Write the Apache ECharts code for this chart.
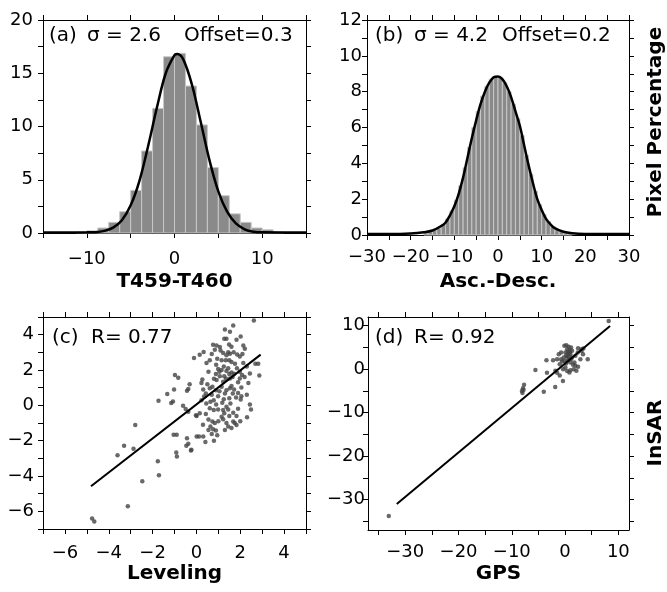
<!DOCTYPE html>
<html><head><meta charset="utf-8">
<script src="https://cdn.jsdelivr.net/npm/echarts@6/dist/echarts.min.js"></script>
<style>html,body{margin:0;padding:0;background:#fff}#c{width:667px;height:592px}</style>
</head><body><div id="c"></div>
<script>
// ---- (a) histogram T459-T460 ----
const histA_left = [-11.25, -10, -8.75, -7.5, -6.25, -5, -3.75, -2.5, -1.25, 0, 1.25, 2.5, 3.75, 5, 6.25, 7.5, 8.75, 10, 11.25];
const histA_pct  = [0.1, 0.2, 0.47, 1.0, 2.0, 4.0, 7.7, 11.7, 16.55, 16.87, 13.8, 10.15, 6.15, 3.5, 1.8, 1.0, 0.47, 0.3, 0.1];
const histA_width = 1.25;
const curveA_x = [-15, -12, -10, -9, -8, -7, -6, -5, -4, -3, -2, -1, 0, 0.3, 1, 2, 3, 4, 5, 6, 7, 8, 9, 10, 12, 15];
const curveA_y = [0.05, 0.05, 0.06, 0.08, 0.2, 0.5, 1.2, 2.6, 4.9, 8.2, 11.8, 15.0, 16.7, 16.8, 16.3, 13.9, 10.4, 6.8, 3.9, 2.0, 0.9, 0.35, 0.12, 0.06, 0.05, 0.05];

// ---- (b) histogram Asc.-Desc. ----
const histB_left = [-17,-16,-15,-14,-13,-12,-11,-10,-9,-8,-7,-6,-5,-4,-3,-2,-1,0,1,2,3,4,5,6,7,8,9,10,11,12,13,14,15,16];
const histB_pct  = [0.12,0.18,0.25,0.38,0.6,0.9,1.35,1.95,2.75,3.75,4.9,6.0,6.9,7.75,8.3,8.7,8.85,8.8,8.5,8.0,7.3,6.5,5.55,4.45,3.4,2.45,1.7,1.15,0.75,0.48,0.3,0.2,0.13,0.08];
const histB_width = 1;
const curveB_x = [-30,-25,-20,-17,-15,-13,-12,-11,-10,-9,-8,-7,-6,-5,-4,-3,-2,-1,0,1,2,3,4,5,6,7,8,9,10,11,12,13,15,17,20,25,30];
const curveB_y = [0.05,0.05,0.08,0.15,0.25,0.5,0.7,1.1,1.6,2.3,3.2,4.3,5.4,6.4,7.3,8.0,8.5,8.8,8.85,8.7,8.3,7.7,6.9,6.1,5.0,3.9,2.9,2.0,1.4,0.9,0.6,0.38,0.18,0.1,0.06,0.05,0.05];

// ---- (c) Leveling vs InSAR ----
const cLeveling = [-4.76,-4.66,-3.13,-2.47,-1.71,-1.76,-3.6,-3.3,-2.87,-2.79,-1.73,-1.33,-1.15,-1.07,-1.02,-0.43,-0.37,-0.98,-0.83,-0.31,-0.11,-0.61,-0.49,-0.37,-1.04,-0.9,-0.43,-0.46,-0.37,-0.92,-0.89,-0.25,0.01,-0.02,
 2.62,1.68,1.3,1.53,2.02,1.27,1.37,1.83,0.76,0.92,1.07,0.84,1.49,1.6,2.14,2.21,0.15,0.33,1.22,1.37,1.53,1.86,1.98,0.46,0.61,0.95,1.15,1.34,1.5,1.6,1.76,2.14,2.69,2.82,2.44,2.87,0.99,1.15,1.37,1.6,1.72,0.89,1.07,1.27,1.5,1.98,2.08,0.27,0.23,0.92,1.22,1.53,1.98,2.37,0.61,0.73,0.89,1.15,1.37,1.53,1.72,2.05,0.31,0.43,0.99,1.3,1.66,1.81,2.05,2.02,0.23,0.64,0.79,1.18,1.37,2.44,2.49,0.61,0.79,0.99,1.22,1.45,0.43,0.01,1.27,1.15,1.68,1.83,2.31,0.73,0.84,1.22,1.37,1.68,1.83,0.64,0.76,0.89,0.7,1.45,1.6,0.12,0.31,0.41,-0.23,0.15,
 0.7,1.1,1.45,1.7,0.9,1.25,1.45,1.85,2.3,0.55,0.8,1.05,1.35,1.65,1.9,2.2,0.5,0.7,1.05,1.5,1.9,2.3,0.45,0.9,1.55,1.9,0.55,1.0,1.5,2.0,0.95,1.3,1.75,0.55,0.3,0.8,1.6,1.25,0.35,2.1];
const cInSAR = [-6.4,-6.57,-5.71,-4.3,-3.96,-3.17,-2.83,-2.29,-2.46,-1.11,0.26,0.64,0.13,0.22,0.9,0.82,0.92,1.71,1.56,1.2,2.68,-0.02,-0.21,-0.36,-1.67,-1.67,-1.86,-2.29,-2.18,-2.67,-2.89,-2.55,-1.77,-0.56,
 4.8,4.52,4.29,4.16,3.9,3.77,3.77,3.71,3.43,3.38,3.3,3.15,3.45,3.32,3.39,3.2,2.87,3.02,2.96,2.83,2.92,2.88,2.77,2.4,2.55,2.64,2.55,2.55,2.55,2.45,2.36,2.4,2.36,2.36,1.8,1.69,2.06,2.0,1.94,1.86,1.79,1.77,1.64,1.64,1.77,1.9,1.72,1.46,1.27,1.43,1.33,1.52,1.52,1.27,0.96,1.05,0.86,1.05,0.86,0.96,0.9,1.01,0.9,0.67,0.52,0.67,0.67,0.45,0.52,0.33,0.29,0.2,0.29,0.14,-0.08,0.05,-0.23,-0.17,-0.27,-0.23,-0.27,-0.23,-0.49,-0.6,-0.45,-0.64,-0.42,-0.6,-0.67,-0.92,-1.0,-0.79,-1.0,-0.92,-1.11,-1.2,-1.35,-1.43,-1.62,-1.2,-1.29,-1.77,-1.77,-2.08,-2.52,-0.45,
 2.9,3.1,3.0,3.0,2.3,2.2,2.1,2.1,2.2,1.9,1.5,1.9,1.5,1.6,1.3,1.6,1.2,0.6,0.8,0.4,0.7,0.6,0.1,0.05,0.1,-0.2,-0.8,-0.9,-0.6,-0.9,-1.7,-1.4,-1.0,-1.4,-1.1,-2.0,1.1,0.35,0.5,2.9];
const cFitX = [-4.81, 2.93];
const cFitY = [-4.58, 2.87];

// ---- (d) GPS vs InSAR ----
const dGPS = [8.19,-33.1,-5.57,-7.7,-7.9,-8.1,-7.8,-8.0,-4.0,-1.85,-3.4,-3.5,-2.25,-1.5,-1.19,-0.75,-1.82,-1.5,-1.0,-0.4,-0.37,0.06,0.38,0.81,1.0,1.62,1.94,2.12,2.44,1.75,2.87,3.37,4.25,3.06,2.44,
 -0.13,0.24,0.68,1.12,0.38,0.87,1.31,0.06,0.56,1.0,0.38,-0.26,0.68,1.31,-0.56,0.18,1.0,1.5,-1.0,-0.13,-0.75,1.94,2.37,0.5,0.9,0.2,0.7,1.1,0.4,3.44,3.1];
const dInSAR = [11.08,-33.8,-0.2,-3.6,-4.4,-5.0,-4.8,-5.5,-5.2,-4.1,-0.8,2.07,2.07,2.3,3.45,3.83,-0.39,-0.85,-1.47,-2.7,0.0,0.38,-0.4,-0.77,-0.23,0.0,0.77,-0.38,0.54,1.53,2.3,3.45,2.3,4.6,4.83,
 5.36,5.52,5.13,4.97,4.6,4.37,4.22,3.83,3.6,3.45,2.83,2.68,2.3,2.68,1.75,1.29,1.53,0.99,1.14,1.91,2.3,3.07,3.83,4.0,3.9,3.1,2.9,2.2,1.8,4.77,4.15];
const dFitX = [-31.6, 8.44];
const dFitY = [-31.0, 9.92];

// ---- tick/label values ----
const dTicks = [-35,-30,-25,-20,-15,-10,-5,0,5,10];
const dLabels = [-30,-20,-10,0,10];

const FONT = 'DejaVu Sans';
function minus(v){ return String(v).replace('-', '\u2212'); }
function majorFmt(major){
  return function(v){
    const k = Math.round(v / major);
    return Math.abs(k * major - v) < 1e-6 ? minus(Math.round(v * 100) / 100) : '';
  };
}
function axes(dim, g, c){
  const main = {
    type: 'value', gridIndex: g, position: dim === 'x' ? 'bottom' : 'left',
    min: c.min, max: c.max,
    axisLine: {show: true, onZero: false, lineStyle: {color: '#000', width: 1}},
    axisTick: {show: true, inside: false, length: 5, lineStyle: {color: '#000', width: 1}},
    splitLine: {show: false},
    axisLabel: {show: true, margin: c.margin, fontSize: 18, fontFamily: FONT, color: '#000',
      formatter: c.major ? majorFmt(c.major) : minus, showMinLabel: true, showMaxLabel: true},
    name: c.name || '', nameLocation: 'middle', nameGap: c.nameGap || 0,
    nameTextStyle: {fontSize: 20, fontWeight: 'bold', fontFamily: FONT, color: '#000'}
  };
  if (c.interval) main.interval = c.interval;
  if (c.ticks) { main.axisTick.customValues = c.ticks; main.axisLabel.customValues = c.labels; }
  const mirror = JSON.parse(JSON.stringify(main));
  mirror.position = dim === 'x' ? 'top' : 'right';
  mirror.axisLabel = {show: false};
  mirror.name = '';
  if (c.ticks) mirror.axisTick.customValues = c.ticks;
  return [main, mirror];
}

const xAxis = [].concat(
  axes('x', 0, {min: -15, max: 15, interval: 5, major: 10, margin: 17, name: 'T459-T460', nameGap: 39}),
  axes('x', 1, {min: -30, max: 30, interval: 5, major: 10, margin: 13, name: 'Asc.-Desc.', nameGap: 37}),
  axes('x', 2, {min: -7, max: 5, interval: 1, major: 2, margin: 15, name: 'Leveling', nameGap: 35}),
  axes('x', 3, {min: -37, max: 12, ticks: dTicks, labels: dLabels, margin: 13, name: 'GPS', nameGap: 34})
);
const yAxis = [].concat(
  axes('y', 0, {min: 0, max: 20, interval: 2.5, major: 5, margin: 10}),
  axes('y', 1, {min: 0, max: 12, interval: 1, major: 2, margin: 5}),
  axes('y', 2, {min: -7, max: 5, interval: 1, major: 2, margin: 9}),
  axes('y', 3, {min: -37, max: 12, ticks: dTicks, labels: dLabels, margin: 3})
);

function barItem(params, api){
  const p0 = api.coord([api.value(0), 0]);
  const p1 = api.coord([api.value(1), api.value(2)]);
  return {type: 'rect', shape: {x: p0[0], y: p1[1], width: p1[0] - p0[0], height: p0[1] - p1[1]},
    style: {fill: '#8a8a8a', stroke: '#c8c8c8', lineWidth: 1}};
}
function zip(a, b){ return a.map((v, i) => [v, b[i]]); }

const series = [
  {type: 'custom', xAxisIndex: 0, yAxisIndex: 0, renderItem: barItem, encode: {x: [0, 1], y: 2},
   data: histA_left.map((l, i) => [l, l + histA_width, histA_pct[i]]), z: 1},
  {type: 'line', xAxisIndex: 0, yAxisIndex: 0, data: zip(curveA_x, curveA_y), smooth: 0.35, showSymbol: false,
   lineStyle: {color: '#000', width: 2.5}, z: 3},
  {type: 'custom', xAxisIndex: 2, yAxisIndex: 2, renderItem: barItem, encode: {x: [0, 1], y: 2},
   data: histB_left.map((l, i) => [l, l + histB_width, histB_pct[i]]), z: 1},
  {type: 'line', xAxisIndex: 2, yAxisIndex: 2, data: zip(curveB_x, curveB_y), smooth: 0.35, showSymbol: false,
   lineStyle: {color: '#000', width: 2.5}, z: 3},
  {type: 'scatter', xAxisIndex: 4, yAxisIndex: 4, data: zip(cLeveling, cInSAR), symbolSize: 4.5,
   itemStyle: {color: '#444'}, z: 2},
  {type: 'line', xAxisIndex: 4, yAxisIndex: 4, data: zip(cFitX, cFitY), showSymbol: false,
   lineStyle: {color: '#000', width: 2}, z: 3},
  {type: 'scatter', xAxisIndex: 6, yAxisIndex: 6, data: zip(dGPS, dInSAR), symbolSize: 4.5,
   itemStyle: {color: '#444'}, z: 2},
  {type: 'line', xAxisIndex: 6, yAxisIndex: 6, data: zip(dFitX, dFitY), showSymbol: false,
   lineStyle: {color: '#000', width: 2}, z: 3}
];

function txt(s, x, y, opt){
  opt = opt || {};
  return {type: 'text', x: x, y: y, rotation: opt.rot || 0, z: 10,
    style: {text: s, font: (opt.bold ? 'bold ' : '') + (opt.size || 20) + 'px "' + FONT + '"', fill: '#000',
      textAlign: opt.align || 'left', align: opt.align || 'left',
      textVerticalAlign: 'middle', verticalAlign: 'middle'}};
}
const graphic = [
  txt('(a)', 49, 36), txt('\u03c3 = 2.6', 87, 36), txt('Offset=0.3', 184, 36),
  txt('(b)', 375, 36), txt('\u03c3 = 4.2', 414, 36), txt('Offset=0.2', 502, 36),
  txt('(c)', 52, 338), txt('R= 0.77', 91, 338),
  txt('(d)', 375, 338), txt('R= 0.92', 414, 338),
  txt('Pixel Percentage', 656, 122, {bold: true, align: 'center', rot: Math.PI / 2}),
  txt('InSAR', 656, 433, {bold: true, align: 'center', rot: Math.PI / 2})
];

const chart = echarts.init(document.getElementById('c'), null, {renderer: 'canvas'});
chart.setOption({
  animation: false,
  backgroundColor: '#fff',
  textStyle: {fontFamily: FONT},
  grid: [
    {left: 43, top: 20, width: 263, height: 213},
    {left: 367, top: 20, width: 262, height: 215},
    {left: 43, top: 317, width: 263, height: 212},
    {left: 368, top: 317, width: 261, height: 213}
  ],
  xAxis: xAxis, yAxis: yAxis, series: series, graphic: graphic
});
</script></body></html>
